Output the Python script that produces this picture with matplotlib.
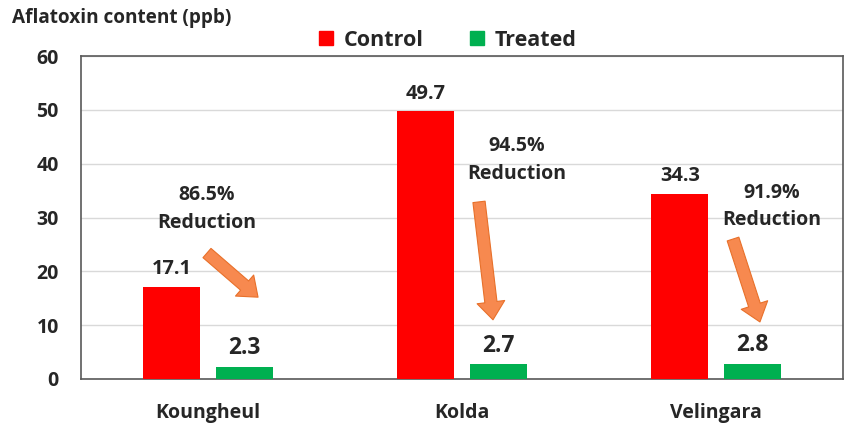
import matplotlib
matplotlib.use("Agg")
import matplotlib.pyplot as plt
import numpy as np
from matplotlib.lines import Line2D

categories = ["Koungheul", "Kolda", "Velingara"]
control = [17.1, 49.7, 34.3]
treated = [2.3, 2.7, 2.8]
reductions = ["86.5%", "94.5%", "91.9%"]
yticks = [0, 10, 20, 30, 40, 50, 60]

plt.rcParams['font.family'] = ['Open Sans', 'DejaVu Sans']

fig = plt.figure(figsize=(8.51, 4.24), dpi=100)
ax = fig.add_axes([81/851, 1-379/424, (843-81)/851, (379-56)/424])

x = np.arange(len(categories))
w = 0.224
off = 0.142
RED = '#FF0000'
GREEN = '#00B050'
TXT = '#262626'
ax.bar(x - off, control, width=w, color=RED, zorder=3)
ax.bar(x + off, treated, width=w, color=GREEN, zorder=3)

ax.set_xlim(-0.5, 2.5)
ax.set_ylim(0, 60)
ax.set_yticks(yticks)
ax.set_yticklabels([str(t) for t in yticks], fontsize=14, fontweight='bold', color=TXT)
ax.set_xticks(x)
ax.set_xticklabels(categories, fontsize=14, fontweight='bold', color=TXT)
ax.tick_params(axis='both', length=0)
ax.tick_params(axis='y', pad=16)
ax.tick_params(axis='x', pad=17)
ax.grid(axis='y', color='#D9D9D9', linewidth=1, zorder=0)
for s in ax.spines.values():
    s.set_color('#595959')
    s.set_linewidth(1.2)

for i in range(len(categories)):
    ax.text(x[i] - off, control[i] + 2.4, f"{control[i]:.1f}", ha='center', va='baseline',
            fontsize=14.4, fontweight='bold', color=TXT)
    ax.text(x[i] + off, treated[i] + 2.35, f"{treated[i]:.1f}", ha='center', va='baseline',
            fontsize=16.5, fontweight='bold', color=TXT)

# Reduction annotations (text block center in data coords)
red_text_pos = [(-0.006, 31.6), (1.215, 40.7), (2.22, 32.0)]
for (tx, ty), r in zip(red_text_pos, reductions):
    ax.text(tx, ty, f"{r}\nReduction", ha='center', va='center', fontsize=14,
            fontweight='bold', color=TXT, linespacing=1.5)

# arrows: tail -> tip in data coords
arrows = [((-0.004, 23.4), (0.197, 15.2)),
          ((1.067, 32.9), (1.122, 11.0)),
          ((2.067, 26.0), (2.173, 10.6))]
for (x0, y0), (x1, y1) in arrows:
    ax.annotate('', xy=(x1, y1), xytext=(x0, y0),
                arrowprops=dict(arrowstyle='simple,head_length=0.8,head_width=1.25,tail_width=0.55',
                                fc='#F7894F', ec='#E8702A', lw=0.8, mutation_scale=16,
                                shrinkA=0, shrinkB=0),
                zorder=5)

fig.text(12/851, 1-18/424, "Aflatoxin content (ppb)", ha='left', va='center',
         fontsize=13.7, fontweight='bold', color=TXT)

handles = [Line2D([], [], marker='s', linestyle='none', markersize=10, color=RED),
           Line2D([], [], marker='s', linestyle='none', markersize=10, color=GREEN)]
leg = fig.legend(handles, ["Control", "Treated"], loc='center', bbox_to_anchor=(446/851, 1-40/424),
                 ncol=2, frameon=False, prop={'size': 15.5, 'weight': 'bold'},
                 handletextpad=0.3, columnspacing=2.0, handlelength=1.0)
for t in leg.get_texts():
    t.set_color(TXT)

fig.savefig("out.png", dpi=100)
